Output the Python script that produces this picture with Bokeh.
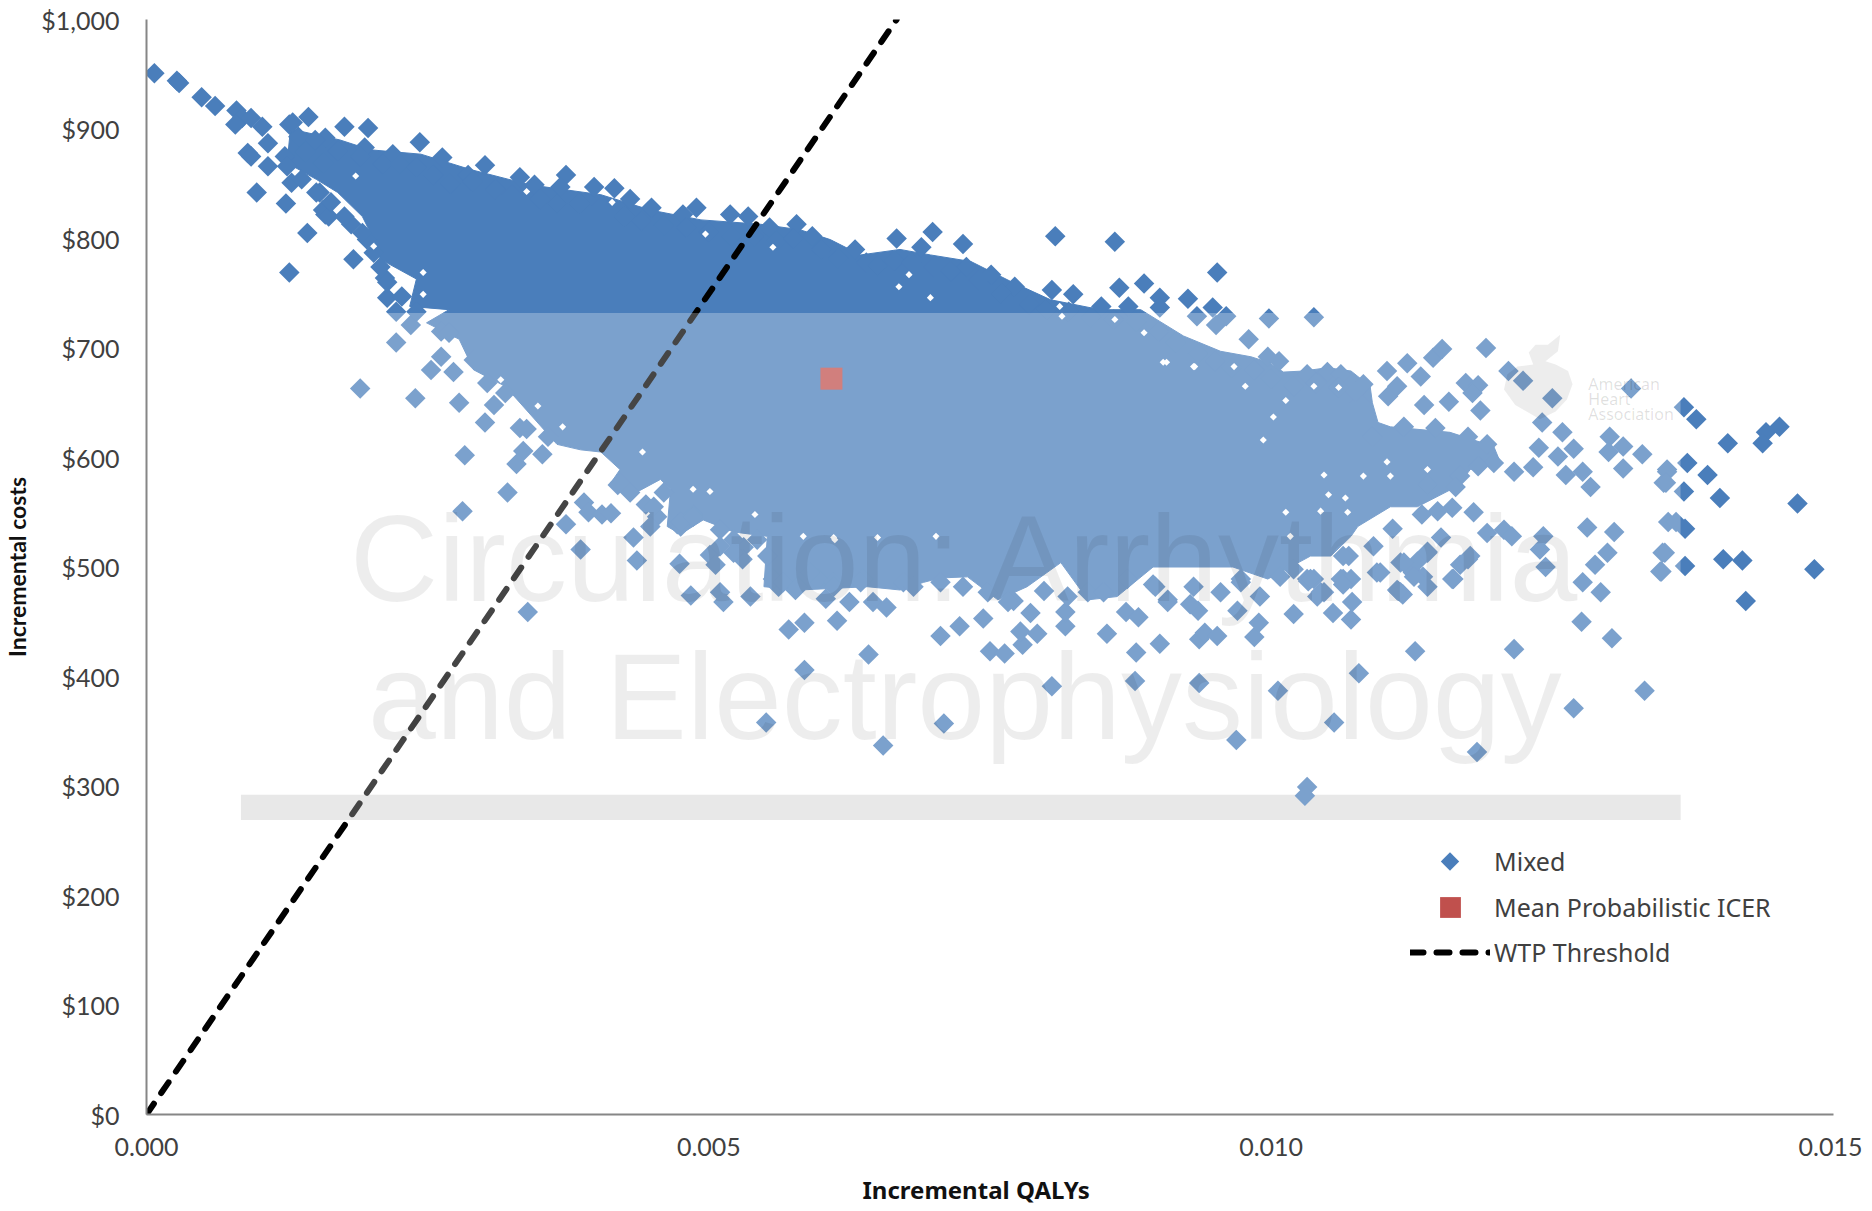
from bokeh.plotting import figure
from bokeh.embed import file_html
from bokeh.resources import INLINE
from bokeh.models import Range1d, FixedTicker, Legend, LegendItem, Title
from bokeh.core.properties import value
import math

mixed_points = [
 (.00007,951),(.00027,944),(.00029,942),(.00049,929),(.00061,921),(.00080,917),(.00085,910),(.00079,904),(.00093,910),(.00103,902),
 (.00108,887),(.00127,904),(.00144,911),(.00176,902),(.00197,901),(.00090,878),(.00093,875),(.00108,866),(.00098,842),(.00124,832),
 (.00143,805),(.00127,769),(.00159,892),(.00194,883),(.00219,877),(.00243,888),(.00263,874),(.00286,858),(.00301,867),(.00332,856),
 (.00345,849),(.00373,858),(.00368,847),(.00398,847),(.00416,846),(.00430,836),(.00449,828),(.00477,822),(.00489,828),(.00519,822),
 (.00535,820),(.00554,810),(.00578,813),(.00592,802),(.00630,790),(.00667,800),(.00699,806),(.00689,792),(.00726,795),(.00729,774),
 (.00751,767),(.00772,756),(.00805,753),(.00808,802),(.00861,797),(.00952,769),(.00824,749),(.00865,755),(.00887,759),(.00901,746),
 (.00926,745),(.00948,737),(.00960,729),(.00934,729),(.00951,721),(.00849,738),(.00873,738),(.00901,737),(.00998,727),(.01038,728),
 (.00980,708),(.00997,692),(.01007,688),(.01032,676),(.01050,678),(.01062,676),(.01082,667),(.01079,650),(.01103,679),(.01121,686),
 (.01133,674),(.01144,691),(.01152,699),(.01191,700),(.01104,656),(.01112,665),(.01136,648),(.01158,651),(.01186,643),(.01173,668),
 (.01184,666),(.01179,659),(.01211,679),(.01224,670),(.01250,654),(.01320,663),(.01241,632),(.01259,623),(.01301,619),(.01238,609),
 (.01269,608),(.01255,601),(.01233,591),(.01216,587),(.01262,584),(.01277,587),(.01284,573),(.01300,605),(.01313,610),(.01330,603),
 (.01313,590),(.01352,587),(.01349,577),(.01281,536),(.01305,532),(.01353,541),(.01348,513),(.01346,496),(.01299,513),(.01288,502),
 (.01277,486),(.01293,477),(.01367,646),(.01378,635),(.01406,613),(.01452,628),(.01440,623),(.01437,613),(.01370,595),(.01388,584),
 (.01367,569),(.01399,563),(.01468,558),(.01368,535),(.01360,541),(.01402,507),(.01419,506),(.01368,501),(.01483,498),(.01422,469),
 (.01352,589),(.01351,577),(.01350,513),(.01347,496),(.01332,387),(.01269,371),(.01216,425),(.01303,435),(.01276,450),(.01183,331),
 (.01078,403),(.01006,387),(.01056,358),(.00969,342),(.01032,299),(.01030,291),(.00709,357),(.00805,391),(.00879,396),(.00936,394),
 (.01128,423),(.00706,437),(.00723,446),(.00744,453),(.00750,423),(.00763,421),(.00779,429),(.00777,441),(.00792,439),(.00817,446),
 (.00817,459),(.00798,478),(.00786,458),(.00771,469),(.00854,439),(.00880,422),(.00901,430),(.00871,459),(.00882,454),(.00936,434),
 (.00941,440),(.00952,437),(.00985,436),(.00989,449),(.00970,460),(.00935,460),(.00928,466),(.01020,457),(.01055,458),(.01071,452),
 (.01072,468),(.00990,473),(.00973,486),(.01044,477),(.01033,487),(.01064,489),(.01117,475),(.01097,495),(.01091,519),(.01108,535),
 (.00908,470),(.00895,484),(.01126,495),(.00283,602),(.00329,594),(.00335,606),(.00352,603),(.00321,568),(.00281,551),(.00373,539),
 (.00389,559),(.00393,550),(.00405,548),(.00413,549),(.00386,516),(.00433,527),(.00436,506),(.00339,459),(.00474,503),(.00444,557),
 (.00454,546),(.00448,537),(.00472,539),(.00419,575),(.00484,474),(.00510,477),(.00513,468),(.00537,473),(.00501,511),(.00506,502),
 (.00531,518),(.00530,507),(.00562,482),(.00577,479),(.00604,471),(.00625,468),(.00646,468),(.00658,463),(.00614,451),(.00571,443),
 (.00585,449),(.00642,420),(.00585,406),(.00551,358),(.00655,337),(.00597,489),(.00611,486),(.00637,489),(.00673,486),(.00222,705),
 (.00262,692),(.00253,680),(.00273,678),(.00190,663),(.00239,654),(.00278,650),(.00301,632),(.00309,648),(.00235,721),(.00262,715),
 (.00222,733),(.00214,746),(.00212,764),(.00184,781),(.00196,799),(.00182,813),(.00159,822),(.00129,851),(.00332,627),(.00303,668),
 (.01090,619),(.01118,628),(.01146,627),(.01175,619),(.01192,612),(.01198,595),(.01184,592),(.01168,583),(.01164,573),(.01139,575),
 (.01161,554),(.01180,550),(.01148,551),(.01134,548),(.01151,527),(.01139,514),(.01177,510),(.01168,502),(.01162,489),(.01130,505),
 (.01135,491),(.01112,479),(.01192,531),(.01207,534),(.01214,528),(.01242,528),(.01239,516),(.01244,500),(.01115,477),(.01062,489),
 (.01069,510),(.01038,489),(.01047,477),(.01115,504),(.01127,491),(.00486,548),(.00475,537),(.00135,893),(.00130,906),(.00141,879),
 (.00123,875),(.00157,869),(.00154,842),(.00157,826),(.00162,820),
 # upper rim of the dense cloud
 (.00150,890),(.00170,880),(.00190,875),(.00210,868),(.00225,868),(.00240,865),(.00255,858),(.00270,850),(.00290,852),(.00310,845),
 (.00325,840),(.00350,836),(.00365,832),(.00385,832),(.00405,830),(.00425,820),(.00440,816),(.00460,812),(.00480,810),(.00500,806),
 (.00520,802),(.00540,802),(.00560,798),(.00575,800),(.00600,790),(.00615,782),(.00640,778),(.00650,775),(.00665,780),(.00680,778),
 (.00700,774),(.00715,770),(.00740,762),(.00760,750),(.00785,740),(.00800,735),(.00820,733),(.00840,728),(.00860,726),(.00880,724),
 (.00900,715),(.00915,705),(.00935,695),(.00950,688),(.00965,682),(.00985,680),(.01000,672),(.01020,665),(.01040,668),(.01060,664),
 (.01075,660),
 # lower right rim
 (.01064,510),(.01071,489),(.01032,489),(.01041,473),(.01064,484),(.01094,495),(.01113,478),(.01118,504),(.01139,513),(.01139,482),
 (.01161,489),(.01175,507),
 # lower rim
 (.00682,482),(.00706,486),(.00726,482),(.00748,477),(.00766,468),(.00819,473),(.00837,477),(.00851,477),(.00872,489),(.00897,482),
 (.00908,468),(.00931,482),(.00955,477),(.00973,489),(.01008,491),(.01035,489),(.01020,498),
 # lower left rim
 (.00421,577),(.00430,568),(.00451,555),(.00460,568),(.00475,541),(.00486,546),(.00510,534),(.00522,525),(.00543,525),(.00552,510),
 (.00557,489),(.00566,486),(.00579,482),(.00590,495),(.00611,482),(.00635,486),(.00522,513),(.00510,519),
 # left rim
 (.00357,619),(.00338,626),(.00319,659),(.00291,689),(.00269,714),(.00240,733),(.00227,747),(.00214,760),(.00208,774),(.00202,787),
 (.00192,805),(.00176,820),(.00164,833),(.00151,842),(.00138,854),(.00125,866),
]
mixed_x = [a for a, _ in mixed_points]
mixed_y = [b for _, b in mixed_points]

cloud_outline = [
 (.00128,900),(.00172,890),(.00199,881),(.00244,877),(.00288,863),(.00341,849),(.00404,840),(.00448,826),(.00493,817),(.00546,813),
 (.00581,808),(.00608,799),(.00635,785),(.00670,790),(.00697,785),(.00733,779),(.00768,761),(.00804,744),(.00848,735),(.00884,735),
 (.00922,711),(.00955,697),(.00982,692),(.00997,687),(.01011,678),(.01029,679),(.01050,682),(.01071,679),(.01088,665),(.01090,650),
 (.01095,632),(.01106,628),(.01159,623),(.01198,610),(.01204,595),(.01177,589),(.01166,574),(.01130,555),(.01106,555),
 (.01077,537),(.01071,528),(.01053,510),(.01035,510),(.00997,489),(.00966,500),(.00895,500),(.00863,473),(.00837,470),(.00813,504),
 (.00783,482),(.00757,470),(.00730,491),(.00706,490),(.00691,486),(.00670,479),(.00641,482),(.00581,479),(.00549,482),(.00552,528),
 (.00522,532),(.00495,543),(.00475,530),(.00463,537),(.00466,571),(.00457,580),(.00428,564),(.00413,577),(.00421,589),(.00404,605),
 (.00386,607),(.00365,612),(.00319,665),(.00291,680),(.00278,708),(.00249,723),(.00269,735),(.00234,738),(.00240,763),(.00208,781),
 (.00202,799),(.00192,820),(.00170,842),(.00151,854),(.00125,869),
]
cloud_x = [a for a, _ in cloud_outline]
cloud_y = [b for _, b in cloud_outline]

# small white gaps left between the diamonds inside the cloud
gap_points = [
 (.00904,687),(.00931,683),(.00967,683),(.00977,665),(.01013,652),(.01002,637),(.00993,616),(.01060,664),(.01038,665),(.01047,584),
 (.01082,583),(.01103,596),(.01106,583),(.01051,566),(.01066,563),(.01013,550),(.01044,551),(.01068,550),(.01017,528),(.01139,589),
 (.00441,605),(.00486,571),(.00501,569),(.00541,548),(.00584,528),(.00611,527),(.00650,527),(.00186,857),(.00202,793),(.00246,769),
 (.00246,749),(.00348,647),(.00370,628),(.00315,671),(.00414,833),(.00338,843),(.00497,804),(.00557,792),(.00678,767),(.00669,756),
 (.00697,746),(.00812,738),(.00814,729),(.00887,714),(.00861,726),(.00907,687),(.00932,683),(.00612,525),(.00702,528),
]
gap_x = [a for a, _ in gap_points]
gap_y = [b for _, b in gap_points]

mean_x = [0.00609]
mean_y = [672]
wtp_x = [0, 0.00667]
wtp_y = [0, 1000]

y_ticks = [0, 100, 200, 300, 400, 500, 600, 700, 800, 900, 1000]
y_labels = ["$0", "$100", "$200", "$300", "$400", "$500", "$600", "$700", "$800", "$900", "$1,000"]
x_ticks = [0, 0.005, 0.010, 0.015]
x_labels = ["0.000", "0.005", "0.010", "0.015"]

band_x = [0.00084, 0.01364]
band_y = [269, 292]
veil_y = [269, 732]

heart = [(.01239,635),(.01217,648),(.01207,662),(.01210,676),(.01219,683),(.01233,685),(.01229,696),(.01235,703),(.01246,703),
         (.01257,712),(.01255,697),(.01244,688),(.01253,685),(.01264,679),(.01268,667),(.01263,653),(.01253,642)]

BLUE = "#4a7ebb"
RED = "#c0504d"
TICK = "#404040"

p = figure(frame_width=1687, frame_height=1095, output_backend="svg", toolbar_location=None,
           x_range=Range1d(0, 0.015), y_range=Range1d(0, 1000),
           min_border_left=134, min_border_top=19, min_border_right=29, min_border_bottom=81,
           background_fill_color="white", border_fill_color="white")
p.outline_line_color = None
p.grid.visible = False

for ax in (p.xaxis[0], p.yaxis[0]):
    ax.axis_line_color = "#868686"
    ax.axis_line_width = 2
    ax.major_tick_line_color = None
    ax.minor_tick_line_color = None
    ax.major_label_text_font = "Lato"
    ax.major_label_text_font_size = "25px"
    ax.major_label_text_color = TICK

p.xaxis[0].ticker = FixedTicker(ticks=x_ticks)
p.xaxis[0].major_label_overrides = dict(zip(x_ticks, x_labels))
p.xaxis[0].major_label_standoff = 17
p.yaxis[0].ticker = FixedTicker(ticks=y_ticks)
p.yaxis[0].major_label_overrides = dict(zip(y_ticks, y_labels))
p.yaxis[0].axis_label = "Incremental costs"
p.yaxis[0].axis_label_text_font = "Lato"
p.yaxis[0].axis_label_text_font_size = "23px"
p.yaxis[0].axis_label_text_font_style = "bold"
p.yaxis[0].axis_label_text_color = "#111111"
p.yaxis[0].major_label_standoff = 21
p.yaxis[0].axis_label_standoff = 7

p.add_layout(Title(text="Incremental QALYs", align="left", offset=716, standoff=25, text_font="Noto Sans",
                   text_font_size="24px", text_font_style="bold", text_color="#111111"), "below")

p.quad(left=[band_x[0]], right=[band_x[1]], bottom=[band_y[0]], top=[band_y[1]],
       fill_color="#e0e0e0", line_color=None)

p.patch(cloud_x, cloud_y, fill_color=BLUE, line_color=BLUE, line_width=1)
r_mixed = p.scatter(mixed_x, mixed_y, marker="square", size=14.5, angle=math.pi / 4,
                    fill_color=BLUE, line_color=None)
p.scatter(gap_x, gap_y, marker="square", size=5, angle=math.pi / 4, fill_color="white", line_color=None)
r_mean = p.scatter(mean_x, mean_y, marker="square", size=22, fill_color=RED, line_color=None)
r_wtp = p.line(wtp_x, wtp_y, line_color="black", line_width=6, line_dash="13 13", line_cap="round")

# white veil of the journal watermark
p.quad(left=[band_x[0]], right=[band_x[1]], bottom=[veil_y[0]], top=[veil_y[1]],
       fill_color="white", fill_alpha=0.27, line_color=None)

# watermark texts
p.text(x=[0.00181], y=[507], text=["Circulation: Arrhythmia"], text_font=value("Liberation Sans"),
       text_font_size="122px", text_color="black", text_alpha=0.07, text_baseline="alphabetic", text_align="left")
p.text(x=[0.00197], y=[381], text=["and Electrophysiology"], text_font=value("Liberation Sans"),
       text_font_size="122px", text_color="black", text_alpha=0.07, text_baseline="alphabetic", text_align="left")
p.patch([a for a, _ in heart], [b for _, b in heart], fill_color="black", fill_alpha=0.07, line_color=None)
p.text(x=[0.01282] * 3, y=[667, 653, 640], text=["American", "Heart", "Association"],
       text_font=value("Noto Sans"), text_font_size="16px", text_color="black", text_alpha=0.13,
       text_baseline="alphabetic", text_align="left")

# legend key of the diamonds: Bokeh's legend does not turn its markers
key_x = [0.01159]
key_y = [231]
p.scatter(key_x, key_y, marker="square", size=13, angle=math.pi / 4, fill_color=BLUE, line_color=None)
r_key = p.scatter([], [], marker="square", fill_alpha=0, line_alpha=0)

def row(label, renderer, y, glyph_height):
    return Legend(items=[LegendItem(label=label, renderers=[renderer])],
                  location=(1264, y), background_fill_alpha=0, border_line_color=None,
                  padding=0, margin=0, glyph_width=80, glyph_height=glyph_height, label_height=20,
                  label_standoff=4, label_text_font="Noto Sans", label_text_font_size="25px",
                  label_text_color=TICK)

p.add_layout(row("Mixed", r_key, 235, 36), "center")
p.add_layout(row("Mean Probabilistic ICER", r_mean, 181, 52), "center")
p.add_layout(row("WTP Threshold", r_wtp, 145, 28), "center")

open("out.html", "w").write(file_html(p, INLINE))
